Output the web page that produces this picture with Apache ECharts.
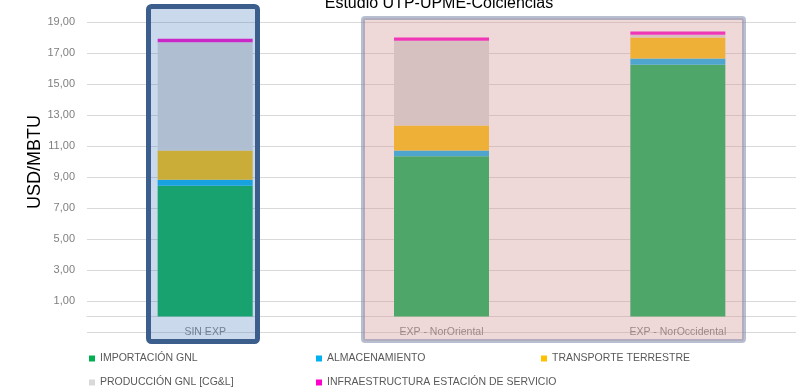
<!DOCTYPE html>
<html>
<head>
<meta charset="utf-8">
<script src="https://cdn.jsdelivr.net/npm/echarts@6/dist/echarts.min.js"></script>
<style>
  html, body { margin: 0; padding: 0; background: #fff; }
  #chart { width: 808px; height: 387px; }
</style>
</head>
<body>
<div id="chart"></div>
<script>
// Costo del GNL por escenario (USD/MBTU), componentes apilados
const categories = ['SIN EXP', 'EXP - NorOriental', 'EXP - NorOccidental'];
const importacion = [8.43, 10.34, 16.24];
const almacenamiento = [0.39, 0.37, 0.41];
const transporte = [1.89, 1.61, 1.35];
const produccion = [6.99, 5.47, 0.17];
const infraestructura = [0.22, 0.21, 0.22];

const seriesNames = [
  'IMPORTACIÓN GNL',
  'ALMACENAMIENTO',
  'TRANSPORTE TERRESTRE',
  'PRODUCCIÓN GNL [CG&L]',
  'INFRAESTRUCTURA ESTACIÓN DE SERVICIO'
];
const seriesColors = ['#00b050', '#00b0f0', '#ffc000', '#d9d9d9', '#ff00cc'];
const seriesValues = [importacion, almacenamiento, transporte, produccion, infraestructura];

const FONT = "'Liberation Sans', Arial, sans-serif";

// leyenda en dos filas y tres columnas
const legendCols = [89, 316, 541];
const legendRows = [353, 377];

const chart = echarts.init(document.getElementById('chart'), null, { renderer: 'canvas' });

function legendItem(name, i) {
  return {
    left: legendCols[i % 3],
    top: legendRows[Math.floor(i / 3)],
    padding: 0,
    itemWidth: 6,
    itemHeight: 6,
    icon: 'rect',
    selectedMode: false,
    data: [name],
    textStyle: { color: '#595959', fontSize: 10.5, fontFamily: FONT }
  };
}

chart.setOption({
  animation: false,
  backgroundColor: '#ffffff',
  grid: { left: 87, right: 12, top: 22, bottom: 55, containLabel: false },
  legend: seriesNames.map(legendItem),
  xAxis: {
    type: 'category',
    data: categories,
    axisLine: { onZero: true, lineStyle: { color: '#d9d9d9', width: 1 } },
    axisTick: { show: false },
    axisLabel: { color: '#7f7f7f', fontSize: 10.5, fontFamily: FONT, margin: -5 }
  },
  yAxis: {
    type: 'value',
    min: -1,
    max: 19,
    interval: 2,
    axisLine: { show: false },
    axisTick: { show: false },
    splitLine: { lineStyle: { color: '#d9d9d9', width: 1 } },
    axisLabel: {
      color: '#7f7f7f',
      fontSize: 11,
      fontFamily: FONT,
      margin: 12,
      formatter: function (v) {
        if (v < 0) return '';
        return v.toFixed(2).replace('.', ',');
      }
    }
  },
  series: seriesNames.map(function (name, i) {
    return {
      name: name,
      type: 'bar',
      stack: 'costo',
      barWidth: 95,
      itemStyle: { color: seriesColors[i] },
      data: seriesValues[i]
    };
  }),
  graphic: [
    {
      type: 'text',
      z: 200,
      x: 439,
      y: 12,
      style: {
        text: 'Estudio UTP-UPME-Colciencias',
        font: '16px ' + FONT,
        fill: '#000000',
        align: 'center',
        verticalAlign: 'bottom'
      }
    },
    {
      type: 'text',
      z: 200,
      x: 35,
      y: 162,
      rotation: Math.PI / 2,
      style: {
        text: 'USD/MBTU',
        font: '18px ' + FONT,
        fill: '#000000',
        align: 'center',
        verticalAlign: 'middle'
      }
    },
    // recuadro del escenario sin exportación
    {
      type: 'rect',
      z: 150,
      shape: { x: 148.5, y: 6.5, width: 109, height: 335, r: 3 },
      style: { fill: 'rgba(79,129,189,0.3)', stroke: '#3b5e8c', lineWidth: 5 }
    },
    // recuadro de los escenarios con exportación
    {
      type: 'rect',
      z: 150,
      shape: { x: 363, y: 18, width: 381, height: 323, r: 2 },
      style: { fill: 'rgba(211,149,149,0.37)', stroke: 'rgba(125,138,170,0.55)', lineWidth: 4 }
    }
  ]
});
</script>
</body>
</html>
